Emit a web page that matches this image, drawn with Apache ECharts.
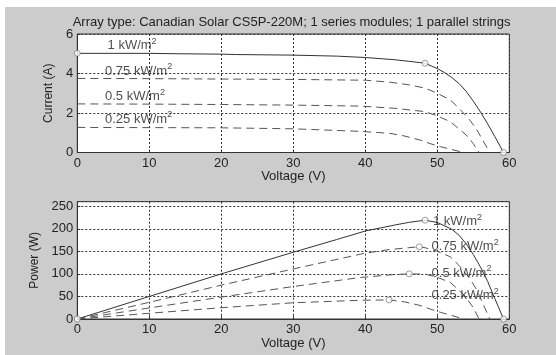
<!DOCTYPE html>
<html>
<head>
<meta charset="utf-8">
<script src="https://cdn.jsdelivr.net/npm/echarts@6/dist/echarts.min.js"></script>
<style>
  html, body { margin: 0; padding: 0; background: #fff; }
  #chart { position: absolute; left: 5px; top: 7px; width: 551px; height: 348px; }
</style>
</head>
<body>
<div id="chart"></div>
<script>
// I-V curves (top panel), voltage in V, current in A
const v1000 = [0, 10, 14, 20, 22, 30, 36, 40, 44, 46, 48.3, 50, 51, 52, 53, 54, 55, 56, 57, 58, 59.2];
const i1000 = [5.02, 5.02, 5.0, 4.98, 4.96, 4.93, 4.88, 4.81, 4.70, 4.62, 4.52, 4.25, 4.05, 3.8, 3.5, 3.1, 2.6, 2.05, 1.45, 0.8, 0];
const v750 = [0, 10, 20, 30, 40, 43.4, 46, 48.3, 50, 51.8, 53, 54.5, 55.5, 56.3, 57.3];
const i750 = [3.75, 3.74, 3.72, 3.70, 3.66, 3.56, 3.43, 3.26, 3.0, 2.66, 2.25, 1.65, 1.15, 0.63, 0];
const v500 = [0, 10, 20, 30, 39.3, 44, 48.3, 50, 51.8, 53, 54, 55, 55.8];
const i500 = [2.46, 2.45, 2.43, 2.40, 2.35, 2.24, 2.07, 1.85, 1.56, 1.2, 0.89, 0.45, 0];
const v250 = [0, 10, 20, 30, 39.3, 43.4, 45.5, 47.6, 49, 50.4, 51.8, 53, 53.8];
const i250 = [1.27, 1.26, 1.25, 1.20, 1.07, 0.97, 0.83, 0.63, 0.45, 0.3, 0.17, 0.06, 0];

// P-V curves (bottom panel), power in W
const pv1000 = [0, 10, 20, 30, 36, 40, 44, 46, 48.3, 50, 52, 53, 54, 55, 56, 57, 58, 59.2];
const p1000 = [0, 50, 100, 148, 176, 195, 208, 214, 219, 214, 199, 186, 167, 143, 115, 83, 45, 0];
const pv750 = [0, 10, 20, 30, 40, 43.4, 46, 47.5, 48.3, 50, 51.8, 53, 54.5, 55.5, 56.3, 57.3];
const p750 = [0, 37, 75, 111, 146, 154, 158, 160, 158, 150, 138, 119, 90, 64, 35, 0];
const pv500 = [0, 10, 20, 30, 39.3, 44, 46.1, 48.3, 50, 51.8, 53, 54, 55, 55.8];
const p500 = [0, 24.5, 48.6, 72, 92, 98.5, 100, 99.5, 92.5, 81, 64, 48, 25, 0];
const pv250 = [0, 10, 20, 30, 39.3, 43.3, 45.5, 47.6, 49, 50.4, 51.8, 53, 53.8];
const p250 = [0, 12.7, 25, 36, 41.5, 42.3, 37.8, 30, 22, 15, 8.8, 3.2, 0];

// marked points
const ivMarks = [[0, 5.02], [48.3, 4.52], [59.2, 0]];
const pvMarks = [[0, 0], [48.3, 219], [47.5, 160], [46.1, 100], [43.3, 42.3], [59.2, 0]];

// curve labels
const labelText = ['1 kW/m', '0.75 kW/m', '0.5 kW/m', '0.25 kW/m'];
const ivLabelPos = [[4.2, 5.41], [3.85, 4.13], [3.85, 2.83], [3.85, 1.70]];
const pvLabelPos = [[49.4, 216], [49.2, 161], [49.2, 102], [49.2, 53]];

const xTicks = [0, 60, 10];
const ivTicks = [0, 6, 2];
const pvTicks = [0, 260, 50];

const title = 'Array type: Canadian Solar CS5P-220M; 1 series modules; 1 parallel strings';

const font = "'Liberation Sans', Arial, sans-serif";
const ink = '#222';

const zip = (xs, ys) => xs.map((x, k) => [x, ys[k]]);

function xAxis(gi, gap) {
  return {
    gridIndex: gi, type: 'value', min: xTicks[0], max: xTicks[1], interval: xTicks[2],
    name: 'Voltage (V)', nameLocation: 'middle', nameGap: gap,
    nameTextStyle: { color: ink, fontSize: 13, fontFamily: font },
    axisLine: { show: true, lineStyle: { color: '#333' } },
    axisTick: { inside: true, length: 3, lineStyle: { color: '#333' } },
    axisLabel: { margin: 4, color: ink, fontSize: 13, fontFamily: font },
    splitLine: { show: true, lineStyle: { type: [2, 2], color: '#333' } }
  };
}

function yAxis(gi, ticks, name, gap) {
  return {
    gridIndex: gi, type: 'value', min: ticks[0], max: ticks[1], interval: ticks[2],
    name: name, nameLocation: 'middle', nameGap: gap,
    nameTextStyle: { color: ink, fontSize: 12, fontFamily: font },
    axisLine: { show: true, lineStyle: { color: '#333' } },
    axisTick: { inside: true, length: 3, lineStyle: { color: '#333' } },
    axisLabel: { margin: 4, color: ink, fontSize: 13, fontFamily: font, showMaxLabel: ticks[1] % ticks[2] === 0 },
    splitLine: { show: true, lineStyle: { type: [2, 2], color: '#333' } }
  };
}

function curve(gi, data, solid) {
  return {
    type: 'line', xAxisIndex: gi, yAxisIndex: gi, data: data,
    showSymbol: false, smooth: false, silent: true, z: 3,
    lineStyle: solid ? { color: '#333', width: 1, type: 'solid' } : { color: '#555', width: 1, type: [8, 5] }
  };
}

function marks(gi, data) {
  return {
    type: 'scatter', xAxisIndex: gi, yAxisIndex: gi, data: data, clip: false,
    symbol: 'circle', symbolSize: 6, silent: true, z: 5,
    itemStyle: { color: '#fff', borderColor: '#666', borderWidth: 0.8 }
  };
}

function labels(gi, pos) {
  return {
    type: 'scatter', xAxisIndex: gi, yAxisIndex: gi, data: pos, symbolSize: 0, silent: true, z: 6,
    label: {
      show: true, position: 'right', distance: 0,
      formatter: p => '{t|' + labelText[p.dataIndex] + '}{s|2}',
      rich: {
        t: { fontSize: 13, fontFamily: font, color: ink },
        s: { fontSize: 9, fontFamily: font, color: ink, padding: [0, 0, 8, 0] }
      }
    }
  };
}

const chart = echarts.init(document.getElementById('chart'));
chart.setOption({
  backgroundColor: '#cccccc',
  animation: false,
  graphic: [{
    type: 'text', x: 286.6, y: 15.7,
    style: { text: title, fill: ink, font: '13px ' + font, textAlign: 'center', verticalAlign: 'middle' }
  }],
  grid: [
    { left: 72.3, top: 27, width: 432, height: 118.5, show: true, backgroundColor: '#fff', borderColor: '#333', borderWidth: 1 },
    { left: 72.3, top: 194.7, width: 432, height: 117.3, show: true, backgroundColor: '#fff', borderColor: '#333', borderWidth: 1 }
  ],
  xAxis: [xAxis(0, 17), xAxis(1, 18)],
  yAxis: [yAxis(0, ivTicks, 'Current (A)', 20), yAxis(1, pvTicks, 'Power (W)', 34)],
  series: [
    curve(0, zip(v1000, i1000), true),
    curve(0, zip(v750, i750), false),
    curve(0, zip(v500, i500), false),
    curve(0, zip(v250, i250), false),
    marks(0, ivMarks),
    labels(0, ivLabelPos),
    curve(1, zip(pv1000, p1000), true),
    curve(1, zip(pv750, p750), false),
    curve(1, zip(pv500, p500), false),
    curve(1, zip(pv250, p250), false),
    marks(1, pvMarks),
    labels(1, pvLabelPos)
  ]
});
</script>
</body>
</html>
